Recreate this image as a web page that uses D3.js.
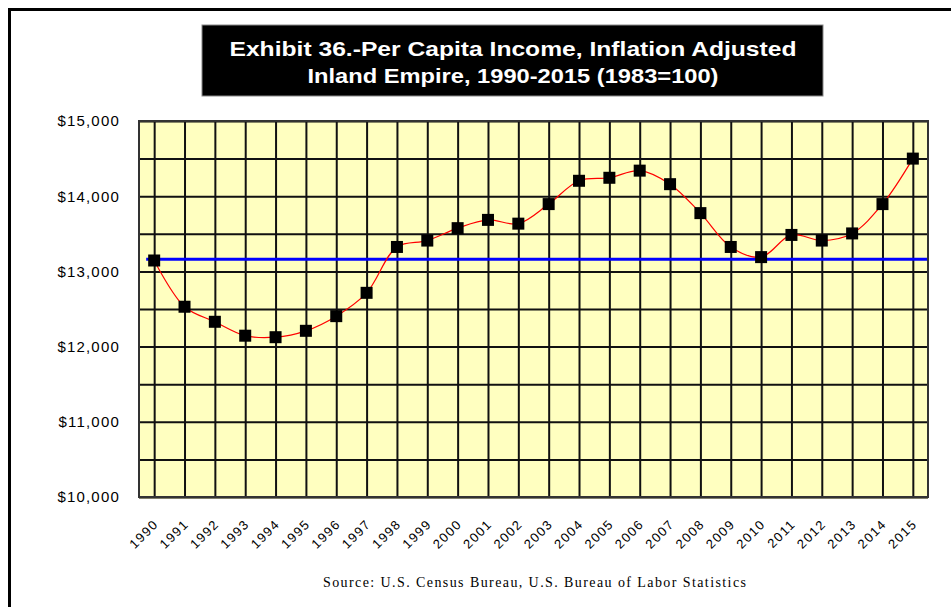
<!DOCTYPE html>
<html>
<head>
<meta charset="utf-8">
<script src="https://cdn.jsdelivr.net/npm/d3@7"></script>
<style>
  body { margin: 0; background: #fff; }
  svg { display: block; }
</style>
</head>
<body>
<div id="chart"></div>
<script>
const FRAME_WIDTH = 951;
const FRAME_HEIGHT = 607;
const PLOT = {left: 139, right: 928, top: 121, bottom: 497};

// data
const YEARS = ["1990", "1991", "1992", "1993", "1994", "1995", "1996", "1997", "1998", "1999",
               "2000", "2001", "2002", "2003", "2004", "2005", "2006", "2007", "2008", "2009",
               "2010", "2011", "2012", "2013", "2014", "2015"];
const INCOME = [13145, 12530, 12330, 12145, 12125, 12210, 12405, 12715, 13325, 13410,
                13575, 13685, 13635, 13895, 14205, 14245, 14340, 14160, 13775, 13325,
                13190, 13485, 13410, 13505, 13895, 14500];
const BASE_LEVEL = [13160, 13160]; // 1990 level reference line (start, end)
const Y_TICKS = [10000, 11000, 12000, 13000, 14000, 15000];
const Y_GRID = [10000, 10500, 11000, 11500, 12000, 12500, 13000, 13500, 14000, 14500, 15000];

const TITLE_LINES = ["Exhibit 36.-Per Capita Income, Inflation Adjusted",
                     "Inland Empire, 1990-2015 (1983=100)"];
const TITLE_WIDTHS = [567, 411]; // measured line widths
const SOURCE = "Source:  U.S. Census Bureau, U.S. Bureau of Labor Statistics";

const SVG = d3.select("#chart")
  .append("svg")
    .attr("width", FRAME_WIDTH)
    .attr("height", FRAME_HEIGHT);

//outer frame (clipped on the right and bottom like the original)
SVG.append("rect")
  .attr("x", 9.5).attr("y", 9.5)
  .attr("width", FRAME_WIDTH + 20).attr("height", FRAME_HEIGHT + 20)
  .attr("fill", "none")
  .attr("stroke", "#000")
  .attr("stroke-width", 3);

//title box
SVG.append("rect")
  .attr("x", 202).attr("y", 25)
  .attr("width", 621).attr("height", 71)
  .attr("fill", "#000")
  .attr("stroke", "#888")
  .attr("stroke-width", 1);

SVG.selectAll(".title")
  .data(TITLE_LINES)
  .enter()
  .append("text")
    .attr("class", "title")
    .attr("x", 513)
    .attr("y", (d, i) => 56 + i * 27)
    .attr("text-anchor", "middle")
    .attr("fill", "#fff")
    .attr("font-family", "Arial, 'Liberation Sans', sans-serif")
    .attr("font-weight", "bold")
    .attr("font-size", "21px")
    .attr("textLength", (d, i) => TITLE_WIDTHS[i])
    .attr("lengthAdjust", "spacingAndGlyphs")
    .text(d => d);

//scales
const X_SCALE = d3.scalePoint()
  .domain(YEARS)
  .range([PLOT.left, PLOT.right])
  .padding(0.5);

const Y_SCALE = d3.scaleLinear()
  .domain([10000, 15000])
  .range([PLOT.bottom, PLOT.top]);

//plot background, with a faint shadow under it
SVG.append("rect")
  .attr("x", PLOT.left).attr("y", PLOT.top + 2)
  .attr("width", PLOT.right - PLOT.left).attr("height", PLOT.bottom - PLOT.top)
  .attr("fill", "#f3f0c8");
SVG.append("rect")
  .attr("x", PLOT.left).attr("y", PLOT.top)
  .attr("width", PLOT.right - PLOT.left).attr("height", PLOT.bottom - PLOT.top)
  .attr("fill", "#ffffc0");

//horizontal grid
SVG.append("g")
  .attr("transform", "translate(" + PLOT.left + ",0)")
  .call(d3.axisLeft(Y_SCALE).tickValues(Y_GRID).tickSize(-(PLOT.right - PLOT.left)).tickFormat(""))
  .call(g => g.select(".domain").remove())
  .call(g => g.selectAll("line").attr("stroke", "#111").attr("stroke-width", 2));

//vertical grid
SVG.append("g")
  .attr("transform", "translate(0," + PLOT.bottom + ")")
  .call(d3.axisBottom(X_SCALE).tickSize(-(PLOT.bottom - PLOT.top)).tickFormat(""))
  .call(g => g.select(".domain").remove())
  .call(g => g.selectAll("line").attr("stroke", "#111").attr("stroke-width", 2));

//plot border
SVG.append("rect")
  .attr("x", PLOT.left).attr("y", PLOT.top)
  .attr("width", PLOT.right - PLOT.left).attr("height", PLOT.bottom - PLOT.top)
  .attr("fill", "none")
  .attr("stroke", "#333")
  .attr("stroke-width", 2);

//y axis labels
SVG.append("g")
  .attr("transform", "translate(" + PLOT.left + ",0)")
  .call(d3.axisLeft(Y_SCALE).tickValues(Y_TICKS).tickSize(0).tickPadding(19)
          .tickFormat(d => "$" + d3.format(",")(d)))
  .call(g => g.select(".domain").remove())
  .call(g => g.selectAll("text")
    .attr("font-family", "Arial, 'Liberation Sans', sans-serif")
    .attr("font-size", "15px")
    .attr("letter-spacing", "1.2px")
    .attr("fill", "#000"));

//x axis labels, rotated
SVG.append("g")
  .selectAll("text")
  .data(YEARS)
  .enter()
  .append("text")
    .attr("transform", d => "translate(" + (X_SCALE(d) + 5) + "," + (PLOT.bottom + 28) + ") rotate(-45)")
    .attr("text-anchor", "end")
    .attr("font-family", "Arial, 'Liberation Sans', sans-serif")
    .attr("font-size", "13px")
    .attr("letter-spacing", "1.4px")
    .attr("fill", "#000")
    .text(d => d);

//1990 reference line
SVG.append("line")
  .attr("x1", X_SCALE(YEARS[0]) - 8)
  .attr("x2", PLOT.right - 1)
  .attr("y1", Y_SCALE(BASE_LEVEL[0]))
  .attr("y2", Y_SCALE(BASE_LEVEL[1]))
  .attr("stroke", "#0000ff")
  .attr("stroke-width", 3);

//smoothed income line
const LINE = d3.line()
  .x((d, i) => X_SCALE(YEARS[i]))
  .y(d => Y_SCALE(d))
  .curve(d3.curveCatmullRom.alpha(0.5));

SVG.append("path")
  .datum(INCOME)
  .attr("d", LINE)
  .attr("fill", "none")
  .attr("stroke", "#ff0000")
  .attr("stroke-width", 1.2);

//square markers
const SIZE = 12;
SVG.selectAll(".marker")
  .data(INCOME)
  .enter()
  .append("rect")
    .attr("class", "marker")
    .attr("x", (d, i) => X_SCALE(YEARS[i]) - SIZE / 2)
    .attr("y", d => Y_SCALE(d) - SIZE / 2)
    .attr("width", SIZE)
    .attr("height", SIZE)
    .attr("fill", "#000");

//source note
SVG.append("text")
  .attr("x", 323)
  .attr("y", 587)
  .attr("font-family", "'Times New Roman', 'Liberation Serif', serif")
  .attr("font-size", "14px")
  .attr("textLength", 423)
  .attr("lengthAdjust", "spacing")
  .attr("fill", "#000")
  .text(SOURCE);
</script>
</body>
</html>
